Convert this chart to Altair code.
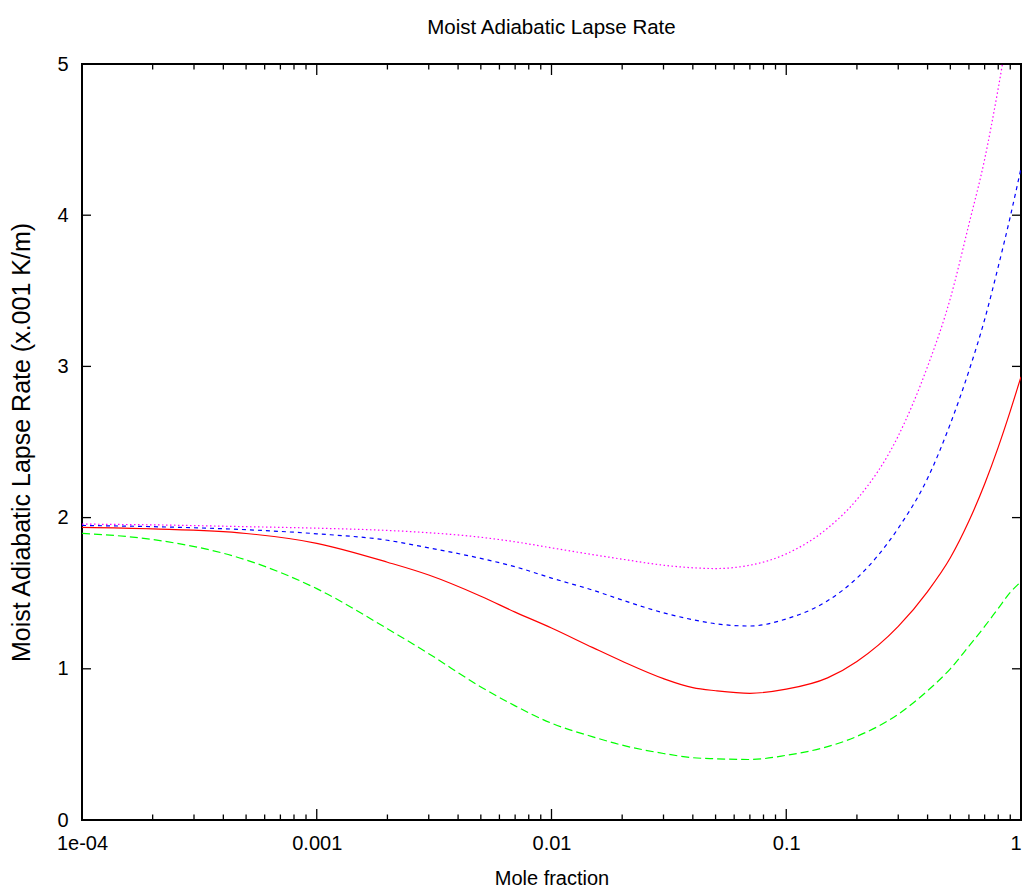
import altair as alt
import pandas as pd

# ---- data ----
mole_fraction = [1e-4, 2e-4, 5e-4, 1e-3, 2e-3, 3e-3, 5e-3, 0.007, 0.01, 0.015, 0.02, 0.03,
                 0.04, 0.05, 0.07, 0.1, 0.15, 0.2, 0.3, 0.4, 0.5, 0.6, 0.7, 0.8, 0.9, 1.0]
red_series = [1.935, 1.925, 1.895, 1.83, 1.705, 1.62, 1.48, 1.375, 1.27, 1.14, 1.05, 0.935,
              0.875, 0.855, 0.838, 0.865, 0.94, 1.049, 1.281, 1.511, 1.734, 1.977, 2.222,
              2.466, 2.704, 2.931]
green_series = [1.896, 1.855, 1.72, 1.53, 1.265, 1.10, 0.88, 0.755, 0.64, 0.55, 0.495, 0.44,
                0.412, 0.405, 0.40, 0.428, 0.485, 0.553, 0.70, 0.855, 1.00, 1.15, 1.28, 1.40,
                1.505, 1.576]
blue_series = [1.948, 1.94, 1.92, 1.893, 1.85, 1.80, 1.73, 1.675, 1.60, 1.52, 1.455, 1.37,
               1.325, 1.298, 1.283, 1.33, 1.45, 1.60, 1.93, 2.26, 2.62, 2.97, 3.31, 3.66,
               3.99, 4.31]
magenta_series = [1.957, 1.952, 1.94, 1.93, 1.915, 1.90, 1.87, 1.84, 1.80, 1.755, 1.725, 1.685,
                  1.668, 1.663, 1.685, 1.76, 1.93, 2.12, 2.54, 3.0, 3.45, 3.94, 4.37, 4.84,
                  5.31, 5.75]

x_tick_values = [1e-4, 1e-3, 1e-2, 1e-1, 1.0]
x_tick_labels = ["1e-04", "0.001", "0.01", "0.1", "1"]
x_minor_ticks = [m * d for d in [1e-4, 1e-3, 1e-2, 1e-1] for m in range(2, 10)]
y_tick_values = [0, 1, 2, 3, 4, 5]

W, H = 939, 756
FONT = "Liberation Sans"

series_specs = [
    ("red", red_series, "#ff0000", []),
    ("green", green_series, "#00ff00", [8, 4]),
    ("blue", blue_series, "#0000ff", [4, 4]),
    ("magenta", magenta_series, "#ff00ff", [1.5, 2.5]),
]

x_scale = alt.Scale(type="log", domain=[1e-4, 1.0], nice=False)
y_scale = alt.Scale(domain=[0, 5], nice=False, zero=False)

label_expr = " : ".join(
    f"datum.value == {v!r} ? '{t}'" for v, t in zip(x_tick_values, x_tick_labels)
) + " : ''"

x_axis = alt.Axis(values=x_tick_values, labelExpr=label_expr, ticks=False, domain=False,
                  grid=False, labelFlush=False, labelOverlap=False, labelPadding=13,
                  labelAlign={"condition": {"test": "datum.value >= 1", "value": "right"},
                              "value": "center"},
                  labelFontSize=20, labelFont=FONT, labelColor="black",
                  title="Mole fraction", titleFontSize=20, titleFont=FONT,
                  titleFontWeight="normal", titleColor="black", titlePadding=15)
y_axis = alt.Axis(values=y_tick_values, ticks=False, domain=False, grid=False,
                  labelPadding=14, labelFontSize=20, labelFont=FONT, labelColor="black",
                  title="Moist Adiabatic Lapse Rate (x.001 K/m)", titleFontSize=25,
                  titleFont=FONT, titleFontWeight="normal", titleColor="black",
                  titlePadding=22)

X = lambda: alt.X("x:Q", scale=x_scale, axis=x_axis)
Y = lambda: alt.Y("y:Q", scale=y_scale, axis=y_axis)

layers = []
for name, vals, color, dash in series_specs:
    df = pd.DataFrame({"x": mole_fraction, "y": vals})
    mark = alt.Chart(df).mark_line(color=color, strokeWidth=1.2, clip=True,
                                   interpolate="monotone",
                                   **({"strokeDash": dash} if dash else {}))
    layers.append(mark.encode(x=X(), y=Y()))

# inward tick marks on all four sides (gnuplot style)
major_x = pd.DataFrame({"x": x_tick_values})
minor_x = pd.DataFrame({"x": x_minor_ticks})
ticks_y = pd.DataFrame({"y": y_tick_values})

def xticks(df, length):
    base = alt.Chart(df).mark_rule(color="black", strokeWidth=1.3)
    bottom = base.encode(x=X(), y=alt.value(H), y2=alt.value(H - length))
    top = base.encode(x=X(), y=alt.value(0), y2=alt.value(length))
    return [bottom, top]

layers += xticks(major_x, 11)
layers += xticks(minor_x, 5.5)

ybase = alt.Chart(ticks_y).mark_rule(color="black", strokeWidth=1.3)
layers.append(ybase.encode(y=Y(), x=alt.value(0), x2=alt.value(9)))
layers.append(ybase.encode(y=Y(), x=alt.value(W - 9), x2=alt.value(W)))

chart = alt.layer(*layers).properties(
    width=W, height=H,
    title=alt.TitleParams("Moist Adiabatic Lapse Rate", fontSize=20.5, font=FONT,
                          fontWeight="normal", color="black", anchor="middle",
                          frame="group", offset=16),
    autosize=alt.AutoSizeParams(type="none"),
    padding={"left": 74, "top": 56, "right": 1, "bottom": 67},
).configure(background="white").configure_view(stroke="black", strokeWidth=2)

chart.save("out.html", embed_options={"renderer": "svg", "actions": False})
